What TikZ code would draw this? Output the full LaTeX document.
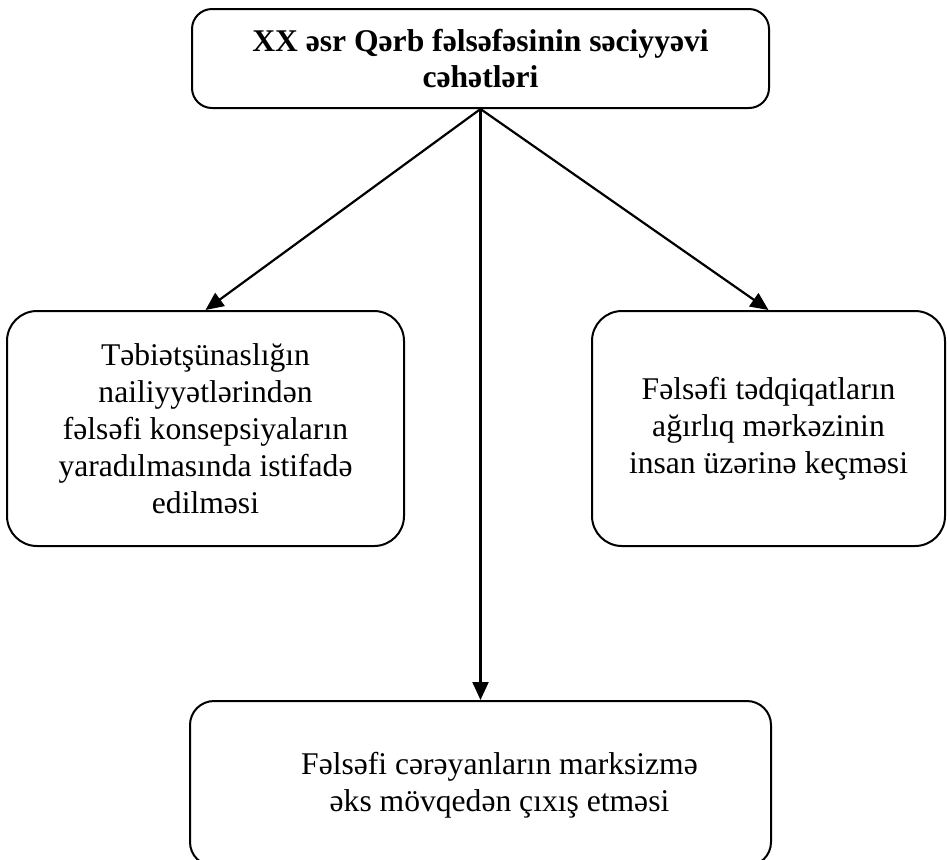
\documentclass[tikz,border=0pt]{standalone}
\usepackage{fontspec}
\setmainfont{Liberation Serif}
\usetikzlibrary{
  arrows.meta,
  positioning
}
\tikzset{
  azbox/.style={
    draw, line width=1pt, rounded corners=15pt, inner sep=0pt,
    font=\fontsize{15.8}{18.5}\selectfont, align=center
  },
  headbox/.style={azbox, rounded corners=10pt, minimum width=288.5pt, minimum height=49.5pt,
    font=\fontsize{15.8}{18}\selectfont\bfseries},
  sidebox/.style={azbox, minimum height=117.5pt},
  footbox/.style={azbox, rounded corners=12pt, minimum width=290.5pt, minimum height=82.5pt},
  boxtext/.style={font=\fontsize{15.8}{18.5}\selectfont, align=center, inner sep=0pt},
  flow/.style={-{Triangle[length=9pt, width=8pt]}, line width=1.1pt}
}

\begin{document}
\begin{tikzpicture}[x=0.5pt, y=-0.5pt]
  \useasboundingbox (0,0) rectangle (947,859);
  \node[headbox] (head) at (480.5,58.5) {XX əsr Qərb fəlsəfəsinin səciyyəvi\\ cəhətləri};
  \node[sidebox, minimum width=198.5pt, below=100.5pt of head, xshift=-137.5pt] (left)
    {Təbiətşünaslığın\\ nailiyyətlərindən\\ fəlsəfi konsepsiyaların\\ yaradılmasında istifadə\\ edilməsi};
  \node[sidebox, minimum width=176.5pt, below=100.5pt of head, xshift=144pt] (right)
    {Fəlsəfi tədqiqatların\\ ağırlıq mərkəzinin\\ insan üzərinə keçməsi};
  \node[footbox, below=295.5pt of head] (foot) {};
  \node[boxtext] (foottxt) at ([xshift=9.5pt, yshift=-1pt]foot.center)
    {Fəlsəfi cərəyanların marksizmə\\ əks mövqedən çıxış etməsi};
  % arrows from the heading
  \foreach \n in {left,foot,right}{\draw[flow] (head.south) -- (\n.north);}
\end{tikzpicture}
\end{document}
